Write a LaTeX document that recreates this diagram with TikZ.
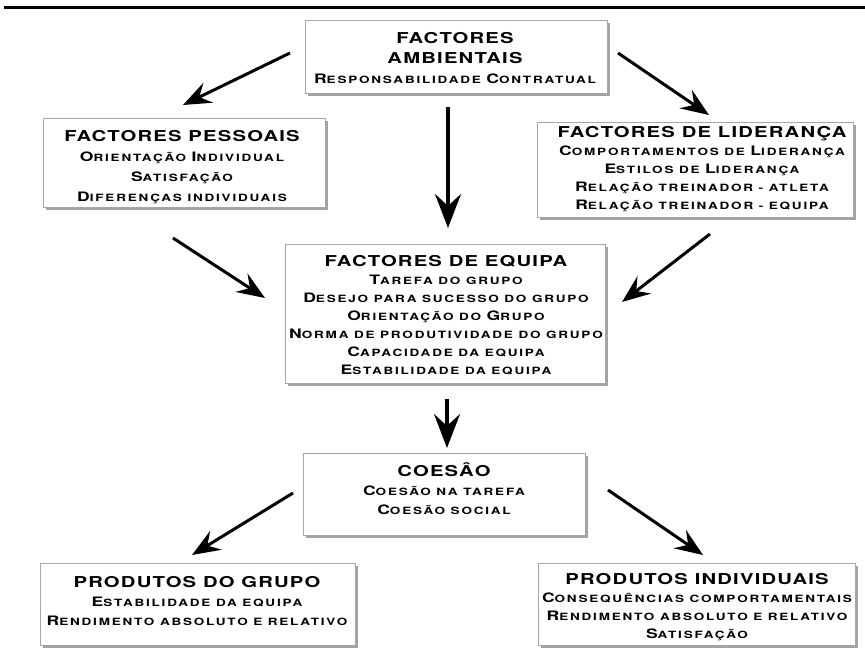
\documentclass[tikz,border=0pt]{standalone}
\usepackage{fontspec}
\setmainfont{TeX Gyre Heros}
\newfontfamily\ttlfont[FakeStretch=1.35,LetterSpace=8]{TeX Gyre Heros}
\newfontfamily\subfont[FakeStretch=1.35,LetterSpace=18]{TeX Gyre Heros}
\usetikzlibrary{arrows.meta,shadows}
\newcommand\Ttl[1]{{\ttlfont\bfseries\fontsize{15}{18}\selectfont #1}}
\newcommand\Cap[1]{{\fontsize{13}{18}\selectfont #1}}
\tikzset{
  panel/.style={draw=black!35, line width=0.6pt, fill=white,
    drop shadow={shadow xshift=3pt, shadow yshift=-3pt, fill=black!45, opacity=0.8}},
  txt/.style={align=center, inner sep=0pt,
    font=\subfont\bfseries\fontsize{10}{18}\selectfont},
  flow/.style={line width=3pt, -{Stealth[length=28pt,width=22pt,inset=10pt]}},
  flowv/.style={line width=3.8pt, -{Stealth[length=34pt,width=26pt,inset=12pt]}}
}
\begin{document}
\begin{tikzpicture}[x=1pt,y=-1pt]
\useasboundingbox (0,0) rectangle (865,658);
\fill[white] (0,0) rectangle (865,658);
% top rule
\coordinate (r1) at (4,8);
\coordinate (r2) at (865,8);
\draw[line width=3pt] (r1) -- (r2);

% boxes
\path[panel] (305,20) rectangle (607,93);
\path[panel] (43,118) rectangle (325,207);
\path[panel] (537,122) rectangle (853,217);
\path[panel] (285,244) rectangle (605,383);
\path[panel] (303,453) rectangle (585,535);
\path[panel] (40,563) rectangle (355,645);
\path[panel] (538,563) rectangle (855,645);

% texts
\node[txt] (amb) at (455,58) {\Ttl{FACTORES}\\[2pt]\Ttl{AMBIENTAIS}\\[2pt]\Cap{R}ESPONSABILIDADE \Cap{C}ONTRATUAL};
\node[txt] (pes) at (182,167) {\Ttl{FACTORES PESSOAIS}\\[2pt]\Cap{O}RIENTAÇÃO \Cap{I}NDIVIDUAL\\[2pt]\Cap{S}ATISFAÇÃO\\[2pt]\Cap{D}IFERENÇAS INDIVIDUAIS};
\node[txt] (lid) at (702,169) {\Ttl{FACTORES DE LIDERANÇA}\\\Cap{C}OMPORTAMENTOS DE \Cap{L}IDERANÇA\\\Cap{E}STILOS DE \Cap{L}IDERANÇA\\\Cap{R}ELAÇÃO TREINADOR - ATLETA\\\Cap{R}ELAÇÃO TREINADOR - EQUIPA};
\node[txt] (equ) at (446,315) {\Ttl{FACTORES DE EQUIPA}\\\Cap{T}AREFA DO GRUPO\\\Cap{D}ESEJO PARA SUCESSO DO GRUPO\\\Cap{O}RIENTAÇÃO DO \Cap{G}RUPO\\\Cap{N}ORMA DE PRODUTIVIDADE DO GRUPO\\\Cap{C}APACIDADE DA EQUIPA\\\Cap{E}STABILIDADE DA EQUIPA};
\node[txt] (coe) at (444,489) {\Ttl{COESÂO}\\[1pt]\Cap{C}OESÃO NA TAREFA\\[1pt]\Cap{C}OESÃO SOCIAL};
\node[txt] (gru) at (197,601) {\Ttl{PRODUTOS DO GRUPO}\\[1pt]\Cap{E}STABILIDADE DA EQUIPA\\[1pt]\Cap{R}ENDIMENTO ABSOLUTO E RELATIVO};
\node[txt] (ind) at (697,607) {\Ttl{PRODUTOS INDIVIDUAIS}\\\Cap{C}ONSEQUÊNCIAS COMPORTAMENTAIS\\\Cap{R}ENDIMENTO ABSOLUTO E RELATIVO\\\Cap{S}ATISFAÇÃO};

% arrow end points
\coordinate (a1s) at (290,53);  \coordinate (a1e) at (183,105);
\coordinate (a2s) at (618,53);  \coordinate (a2e) at (709,115);
\coordinate (a3s) at (448,107); \coordinate (a3e) at (448,228);
\coordinate (a4s) at (173,238); \coordinate (a4e) at (265,298);
\coordinate (a5s) at (710,234); \coordinate (a5e) at (622,302);
\coordinate (a6s) at (447,399); \coordinate (a6e) at (447,448);
\coordinate (a7s) at (293,493); \coordinate (a7e) at (192,555);
\coordinate (a8s) at (608,490); \coordinate (a8e) at (703,555);

\draw[flow] (a1s) -- (a1e);
\draw[flow] (a2s) -- (a2e);
\draw[flowv] (a3s) -- (a3e);
\draw[flow] (a4s) -- (a4e);
\draw[flow] (a5s) -- (a5e);
\draw[flowv] (a6s) -- (a6e);
\draw[flow] (a7s) -- (a7e);
\draw[flow] (a8s) -- (a8e);
\end{tikzpicture}
\end{document}
